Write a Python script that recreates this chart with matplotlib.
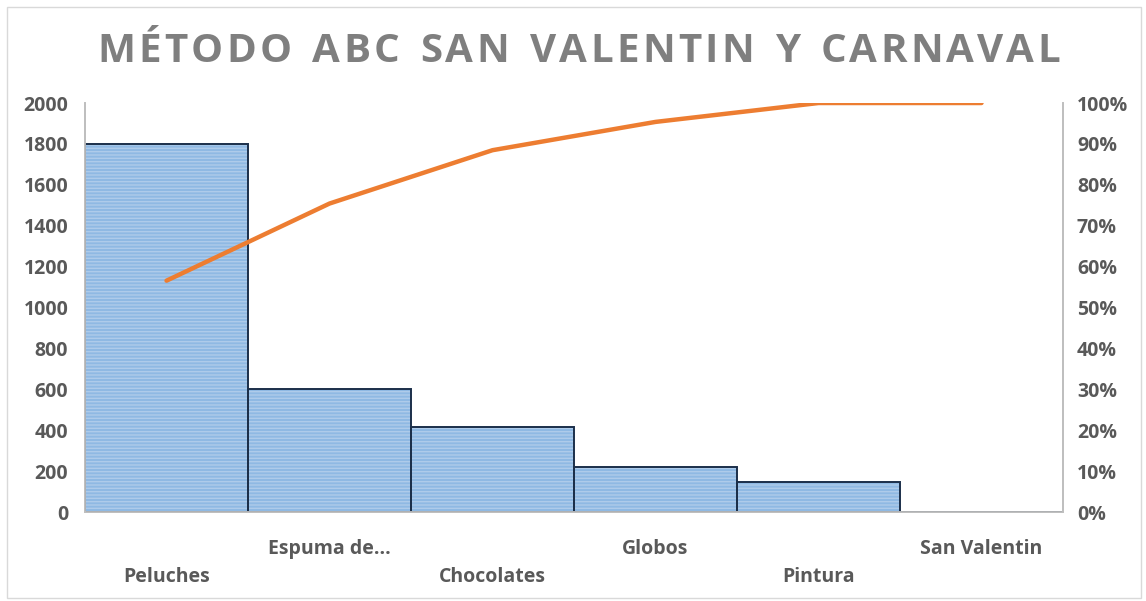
"""Pareto chart (ABC method) recreated with matplotlib."""

import matplotlib
matplotlib.use("Agg")

import matplotlib.pyplot as plt
from matplotlib.patches import Rectangle
import numpy as np

# -- Data ------------------------------------------------------------------
categories = ["Peluches", "Espuma de...", "Chocolates", "Globos", "Pintura", "San Valentin"]
values = [1800, 600, 415, 220, 147, 0]
left_ticks = [0, 200, 400, 600, 800, 1000, 1200, 1400, 1600, 1800, 2000]
right_ticks = [0, 10, 20, 30, 40, 50, 60, 70, 80, 90, 100]
title = "MÉTODO ABC SAN VALENTIN Y CARNAVAL"

BAR_FILL = "#8fb9e3"
BAR_STRIPE = "#aecbea"
BAR_EDGE = "#1b2f4a"
LINE = "#ed7d31"
TEXT = "#595959"
AXIS = "#bfbfbf"

plt.rcParams["font.family"] = ["Open Sans", "DejaVu Sans"]
plt.rcParams["hatch.linewidth"] = 1.0

fig = plt.figure(figsize=(11.46, 6.01), dpi=100)
ax = fig.add_axes([0.0742, 0.148, 0.8534, 0.6806])

x = np.arange(len(categories))
cum_pct = np.cumsum(values) / np.sum(values) * 100

# bars: striped fill first, then the dark outline on top
ax.bar(x, values, width=1.0, color=BAR_FILL, edgecolor=BAR_STRIPE,
       hatch="-----", linewidth=0, zorder=2)
ax.bar(x, values, width=1.0, color="none", edgecolor=BAR_EDGE,
       linewidth=1.4, zorder=3)

ax.set_xlim(-0.5, len(categories) - 0.5)
ax.set_ylim(0, 2000)
ax.set_yticks(left_ticks)
ax.set_yticklabels([str(t) for t in left_ticks], fontsize=14,
                   fontweight="bold", color=TEXT)
ax.tick_params(axis="y", length=0, pad=12)
ax.set_xticks(x)
ax.set_xticklabels([])
ax.tick_params(axis="x", length=0)

ax.spines["top"].set_visible(False)
for s in ["left", "bottom", "right"]:
    ax.spines[s].set_color(AXIS)
    ax.spines[s].set_linewidth(1.3)

# staggered category labels, like Excel does when they don't fit
for i, name in enumerate(categories):
    y_off = -0.09 if i % 2 == 1 else -0.16
    ax.text(i, y_off, name, transform=ax.get_xaxis_transform(),
            ha="center", va="center", fontsize=14,
            fontweight="bold", color=TEXT)

# -- Cumulative percentage line ------------------------------------------
ax2 = ax.twinx()
ax2.plot(x, cum_pct, color=LINE, linewidth=3.2, solid_capstyle="round", zorder=4)
ax2.set_ylim(0, 100)
ax2.set_yticks(right_ticks)
ax2.set_yticklabels([f"{t}%" for t in right_ticks], fontsize=14,
                    fontweight="bold", color=TEXT)
ax2.tick_params(axis="y", length=0, pad=10)
ax2.spines["top"].set_visible(False)
for s in ["left", "bottom", "right"]:
    ax2.spines[s].set_color(AXIS)
    ax2.spines[s].set_linewidth(1.3)

# -- Title with Excel-like letter spacing ------------------------------------
renderer = fig.canvas.get_renderer()
title_kw = dict(fontsize=29, fontweight="bold", color="#7f7f7f", va="center")
spacing = 3.2  # extra pixels between letters
widths = []
for ch in title:
    t = fig.text(0, 0, ch if ch != " " else "n", **title_kw)
    w = t.get_window_extent(renderer).width
    widths.append(w * 0.55 if ch == " " else w)
    t.remove()
total = sum(widths) + spacing * (len(title) - 1)
fig_w = fig.get_figwidth() * fig.dpi
x_px = 0.505 * fig_w - total / 2
for ch, w in zip(title, widths):
    if ch != " ":
        fig.text(x_px / fig_w, 0.915, ch, ha="left", **title_kw)
    x_px += w + spacing

# thin chart-area border
fig.patches.append(Rectangle((0.006, 0.005), 0.99, 0.984, transform=fig.transFigure,
                             fill=False, edgecolor="#d9d9d9", linewidth=1.0))

fig.savefig("out.png", dpi=100)
plt.close(fig)
